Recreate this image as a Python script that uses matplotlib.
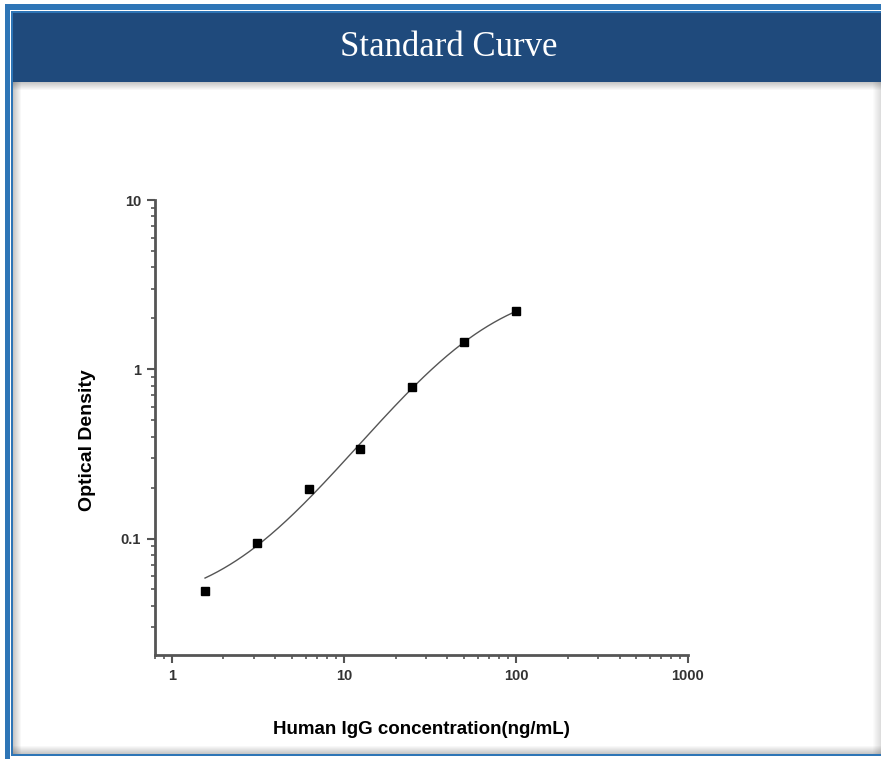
import numpy as np
import matplotlib.pyplot as plt
from matplotlib.patches import Rectangle
from matplotlib.ticker import LogLocator, FuncFormatter, NullFormatter

"""
data read off the reference
"""

conc = np.array([1.5625, 3.125, 6.25, 12.5, 25.0, 50.0, 100.0])
od = np.array([0.049, 0.094, 0.195, 0.336, 0.79, 1.44, 2.2])

title = "Standard Curve"
x_label = "Human IgG concentration(ng/mL)"
y_label = "Optical Density"
x_ticks = [1, 10, 100, 1000]
y_ticks = [0.1, 1, 10]

"""
fitting
"""


def four_pl(x, p):
    a, b, c, d = p
    return d + (a - d) / (1.0 + (x / c) ** b)


def fit_four_pl(x, y, p0, n_iter=200):
    # small Levenberg-Marquardt, least squares on linear OD
    p = np.array(p0, dtype=float)
    lam = 1e-2
    for _ in range(n_iter):
        r = y - four_pl(x, p)
        J = np.empty((len(x), len(p)))
        for k in range(len(p)):
            dp = np.zeros_like(p)
            dp[k] = 1e-6 * max(abs(p[k]), 1e-3)
            J[:, k] = (four_pl(x, p + dp) - four_pl(x, p - dp)) / (2 * dp[k])
        A = J.T @ J
        g = J.T @ r
        step = np.linalg.solve(A + lam * np.diag(np.diag(A)), g)
        p_new = p + step
        if p_new[2] > 0 and np.sum((y - four_pl(x, p_new)) ** 2) < np.sum(r ** 2):
            p = p_new
            lam *= 0.5
        else:
            lam *= 5
    return p


params = fit_four_pl(conc, od, [0.03, 1.3, 25.0, 3.0])
x_fit = np.logspace(np.log10(conc[0]), np.log10(conc[-1]), 200)
y_fit = four_pl(x_fit, params)

"""
figure
"""

fig = plt.figure(figsize=(8.81, 7.59), dpi=100)
fig.patch.set_facecolor("white")

# frame drawn in pixel coordinates
bg = fig.add_axes([0, 0, 1, 1], zorder=-10)
bg.set_xlim(0, 881)
bg.set_ylim(759, 0)
bg.axis("off")

blue = "#2e75b6"
navy = "#1f4a7c"
bg.add_patch(Rectangle((5, 4), 5, 755, color=blue, lw=0))
bg.add_patch(Rectangle((5, 4), 876, 6, color=blue, lw=0))
bg.add_patch(Rectangle((11, 11), 2, 745, color=blue, lw=0))
bg.add_patch(Rectangle((11, 11), 870, 2, color=blue, lw=0))
bg.add_patch(Rectangle((11, 754), 870, 2, color=blue, lw=0))
bg.add_patch(Rectangle((13, 13), 868, 69, color=navy, lw=0))

# soft grey shadows round the white panel
for i in range(8):
    a = 0.22 * (1 - i / 8)
    bg.add_patch(Rectangle((13 + i, 82), 1, 672, color="k", alpha=a, lw=0))
    bg.add_patch(Rectangle((13, 753 - i), 868, 1, color="k", alpha=a, lw=0))
    bg.add_patch(Rectangle((880 - i, 82), 1, 672, color="k", alpha=a * 0.6, lw=0))
    bg.add_patch(Rectangle((13, 82 + i), 868, 1, color="k", alpha=a, lw=0))

bg.text(449, 48, title, color="white", fontsize=25, family="Liberation Serif",
        ha="center", va="center")

ax = fig.add_axes([155 / 881, 104 / 759, 533 / 881, 455 / 759])
ax.set_xscale("log")
ax.set_yscale("log")
ax.set_xlim(0.8, 1000)
ax.set_ylim(0.0205, 10)

ax.plot(x_fit, y_fit, color="#555555", lw=1.0)
ax.plot(conc, od, "s", color="black", ms=5.5)

for side in ["top", "right"]:
    ax.spines[side].set_visible(False)
for side in ["left", "bottom"]:
    ax.spines[side].set_color("#555555")
    ax.spines[side].set_linewidth(2.0)

ax.set_xticks(x_ticks)
ax.set_yticks(y_ticks)
ax.xaxis.set_minor_locator(LogLocator(base=10, subs=np.arange(2, 10), numticks=20))
ax.yaxis.set_minor_locator(LogLocator(base=10, subs=np.arange(2, 10), numticks=20))
plain = FuncFormatter(lambda v, pos: f"{v:g}")
ax.xaxis.set_major_formatter(plain)
ax.yaxis.set_major_formatter(plain)
ax.xaxis.set_minor_formatter(NullFormatter())
ax.yaxis.set_minor_formatter(NullFormatter())
ax.tick_params(which="major", direction="out", length=6, width=1.5, color="#555555",
               labelsize=10.5, labelcolor="#333333", pad=4)
ax.tick_params(which="minor", direction="out", length=3, width=1.2, color="#555555")
for lab in ax.get_xticklabels() + ax.get_yticklabels():
    lab.set_fontweight("bold")
    lab.set_family("Liberation Sans")

fig.text(421 / 881, 1 - 729 / 759, x_label, fontsize=13.5, fontweight="bold",
         family="Liberation Sans", ha="center", va="center")
fig.text(88 / 881, 1 - 440 / 759, y_label, fontsize=14, fontweight="bold",
         family="Liberation Sans", ha="center", va="center", rotation=90)

fig.savefig("out.png", dpi=100)
